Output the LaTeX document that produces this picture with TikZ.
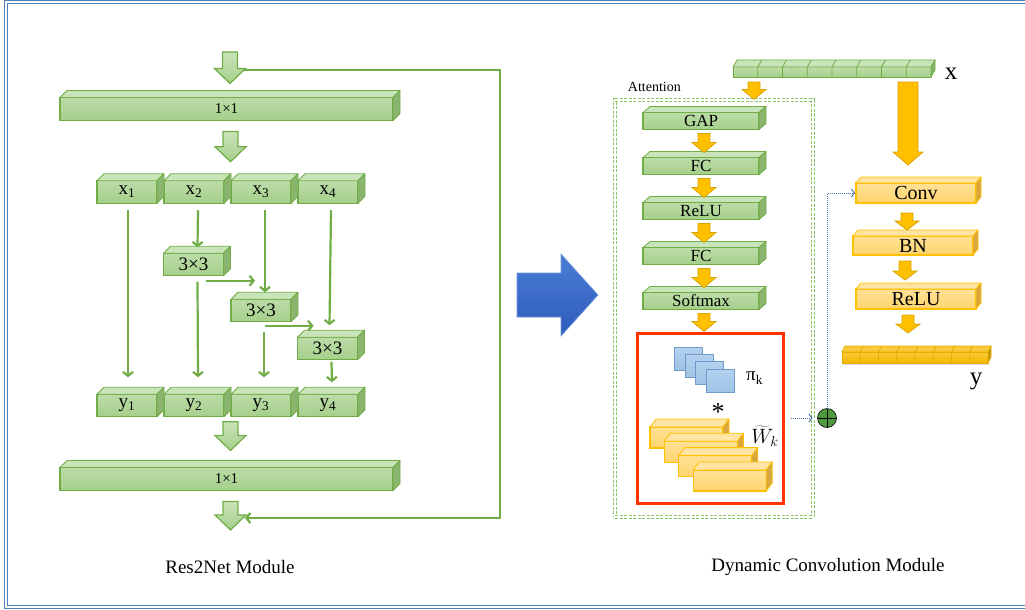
\documentclass[tikz,border=0pt]{standalone}
\usepackage{fontspec}
\setmainfont{Liberation Serif}
\usetikzlibrary{positioning, arrows.meta, calc, shadows}

\definecolor{gline}{HTML}{70AD47}
\definecolor{gfront}{HTML}{A5CF8A}
\definecolor{gfronthi}{HTML}{BCDCA8}
\definecolor{gtop}{HTML}{C9E4B9}
\definecolor{gside}{HTML}{8BB56F}
\definecolor{oline}{HTML}{FFC000}
\definecolor{ofront}{HTML}{FFD46E}
\definecolor{ofronthi}{HTML}{FFE196}
\definecolor{otop}{HTML}{FFE4A3}
\definecolor{oside}{HTML}{D8A742}
\definecolor{ablk}{HTML}{FFC000}
\definecolor{ablkline}{HTML}{D9A300}
\definecolor{yline}{HTML}{E6AC00}
\definecolor{yfront}{HTML}{F2B700}
\definecolor{ytop}{HTML}{F9CB3A}
\definecolor{yside}{HTML}{C89600}
\definecolor{pifill}{HTML}{9DC3E6}
\definecolor{pifillhi}{HTML}{B4D2EE}
\definecolor{piline}{HTML}{6E9BCB}
\definecolor{redc}{HTML}{FF3300}
\definecolor{attgreen}{HTML}{8CC46C}
\definecolor{dotblue}{HTML}{4E77A8}
\definecolor{framec}{HTML}{4F81BD}
\definecolor{bighi}{HTML}{4C7ED4}
\definecolor{biglo}{HTML}{2C5ABC}
\definecolor{sumfill}{HTML}{4F9A3C}

% top and side faces of a box node: node, dx, dy, colour prefix
\newcommand\prism[4]{%
  \draw[draw=#4line, fill=#4top, line width=0.8pt, line join=round] (#1.north west) -- ++(#2,-#3) -- ($(#1.north east)+(#2,-#3)$) -- (#1.north east) -- cycle;
  \draw[draw=#4line, fill=#4side, line width=0.8pt, line join=round] (#1.north east) -- ++(#2,-#3) -- ($(#1.south east)+(#2,-#3)$) -- (#1.south east) -- cycle;}

% fat downward arrow: style, tail, tip, shaft half width, head half width, head length
\newcommand\blockarrow[6]{%
  \path[#1] let \p1=#2, \p2=#3 in
    (\x1-#4pt,\y1) -- (\x1+#4pt,\y1) -- (\x1+#4pt,\y2+#6pt) -- (\x1+#5pt,\y2+#6pt)
    -- (\x1,\y2) -- (\x1-#5pt,\y2+#6pt) -- (\x1-#4pt,\y2+#6pt) -- cycle;}

\begin{document}
\begin{tikzpicture}[x=1pt, y=-1pt,
    gbox/.style={rectangle, draw=gline, line width=1.2pt, outer sep=0pt, inner sep=0pt, top color=gfronthi, bottom color=gfront},
    obox/.style={rectangle, draw=oline, line width=1.2pt, outer sep=0pt, inner sep=0pt, top color=ofronthi, bottom color=ofront},
    cell/.style={minimum width=60pt, minimum height=22.5pt, font=\fontsize{19}{22}\selectfont},
    wide/.style={minimum width=333pt, minimum height=23pt, font=\fontsize{15}{18}\selectfont},
    abox/.style={minimum width=116pt, minimum height=17pt, font=\fontsize{17}{20}\selectfont},
    rbox/.style={minimum width=120pt, minimum height=20pt, font=\fontsize{20}{24}\selectfont},
    ystrip/.style={rectangle, draw=yline, line width=0.8pt, outer sep=0pt, inner sep=0pt, top color=ytop, bottom color=yfront,
                   drop shadow={shadow xshift=1pt, shadow yshift=-2pt, opacity=0.25}},
    pisq/.style={rectangle, draw=piline, line width=1pt, top color=pifillhi, bottom color=pifill, minimum width=28pt, minimum height=23pt, inner sep=0pt},
    attbox/.style={draw=attgreen, line width=1.2pt, double, double distance=1.2pt, dash pattern=on 3pt off 1.5pt, inner sep=0pt},
    redbox/.style={draw=redc, line width=3pt, inner sep=0pt},
    sumc/.style={circle, draw=black, line width=0.6pt, fill=sumfill, minimum size=19pt, inner sep=0pt, outer sep=0pt},
    garrow/.style={draw=gline, line width=2.2pt, -{Straight Barb[length=4pt, width=10pt]}},
    gblk/.style={draw=gline, line width=1.2pt, top color=gtop, bottom color=gfront, line join=miter},
    oblk/.style={draw=ablkline, line width=0.8pt, fill=ablk, line join=miter},
    dotarrow/.style={draw=dotblue, densely dotted, line width=1pt, -{Straight Barb[length=3pt, width=8pt]}},
    frame/.style={draw=framec, line width=1.3pt, double=white, double distance=1.3pt},
    title/.style={font=\fontsize{19}{22}\selectfont}
]
\useasboundingbox (0,0) rectangle (1025,610);
\draw[frame] (1025,2) -| (6,607) -- (1025,607);

% ---- Res2Net module ----
\node (top1) [gbox, wide] at (226.5,109) {1×1};
\node (x1) [gbox, cell] at (127,192) {x\textsubscript{1}};
\node (x2) [gbox, cell, right=7pt of x1] {x\textsubscript{2}};
\node (x3) [gbox, cell, right=7pt of x2] {x\textsubscript{3}};
\node (x4) [gbox, cell, right=7pt of x3] {x\textsubscript{4}};
\node (s1) [gbox, cell] at (193.5,264.5) {3×3};
\node (s2) [gbox, cell] at (261,310.5) {3×3};
\node (s3) [gbox, cell] at (327.5,348.5) {3×3};
\node (y1) [gbox, cell] at (127,405.5) {y\textsubscript{1}};
\node (y2) [gbox, cell, right=7pt of y1] {y\textsubscript{2}};
\node (y3) [gbox, cell, right=7pt of y2] {y\textsubscript{3}};
\node (y4) [gbox, cell, right=7pt of y3] {y\textsubscript{4}};
\node (bot1) [gbox, wide] at (226.5,479) {1×1};
\foreach \n in {top1,x1,x2,x3,x4,s1,s2,s3,y1,y2,y3,y4,bot1} {\prism{\n}{7}{7}{g}}

% fat arrows through the block
\coordinate (inp) at (230,52);
\coordinate (outp) at (230,530);
\blockarrow{gblk}{(inp)}{([yshift=14pt]top1.north)}{7.5}{15.5}{15}
\blockarrow{gblk}{([shift={(4,11)}]top1.south)}{([yshift=19pt]x2.north)}{7.5}{15.5}{15}
\blockarrow{gblk}{($(top1.south |- y2.south)+(4,5)$)}{([yshift=17pt]bot1.north)}{7.5}{15.5}{15}
\blockarrow{gblk}{([shift={(4,11)}]bot1.south)}{(outp)}{7.5}{15.5}{15}

% residual path
\coordinate (skip) at ($(inp)+(14,18)$);
\coordinate (skipend) at ($(outp)+(15,-12)$);
\coordinate (loopx) at (500,70);
\draw[garrow] (skip) -- (loopx) |- (skipend);

% split connections
\draw[garrow] ([shift={(1,7)}]x1.south) -- ([shift={(1,-17)}]y1.north);
\draw[garrow] ([shift={(4,7)}]x2.south) -- ([shift={(4,-6)}]s1.north);
\draw[garrow] ([shift={(4,6)}]s1.south) -- ([shift={(4,-17)}]y2.north);
\draw[garrow] ([shift={(12,5)}]s1.south) -- ($(s1.south -| s2.north)+(-6,5)$);
\draw[garrow] ([shift={(4,7)}]x3.south) -- ([shift={(4,-7)}]s2.north);
\draw[garrow] ([shift={(3,10)}]s2.south) -- ([shift={(3,-17)}]y3.north);
\draw[garrow] ([shift={(4,4)}]s2.south) -- ($(s2.south -| s3.north)+(-14,4)$);
\draw[garrow] ([shift={(3,7)}]x4.south) -- ([shift={(2,-12)}]s3.north);
\draw[garrow] ([shift={(4,2)}]s3.south) -- ([shift={(4,-12)}]y4.north);

\node (ltitle) [title] at (230,567) {Res2Net Module};

% ---- big arrow between modules ----
\draw[draw=bighi!80!white, line width=0.6pt, top color=bighi, bottom color=biglo]
  (517,273) -- (561,273) -- (561,254) -- (598,295) -- (561,336) -- (561,317) -- (517,317) -- cycle;

% ---- dynamic convolution module ----
\node (xin) [gbox, line width=1pt, minimum width=198pt, minimum height=10pt] at (832,72) {};
\prism{xin}{4}{7}{g}
\foreach \i in {1,...,7}
  \draw[gline, line width=0.8pt] ($(xin.south west)!\i/8!(xin.south east)$) -- ($(xin.north west)!\i/8!(xin.north east)$) -- ++(4,-7);
\node (xlbl) [font=\fontsize{25}{28}\selectfont] at (951,74) {x};

\node (attn) [attbox, minimum width=198pt, minimum height=417pt] at (714,308.5) {};
\node (attnlbl) [anchor=west, font=\fontsize{14}{16}\selectfont] at ($(attn.north west)+(10,-12)$) {Attention};

\node (gap) [gbox, abox] at (701,121) {GAP};
\node (fc1) [gbox, abox, below=28pt of gap] {FC};
\node (relu1) [gbox, abox, below=28pt of fc1] {ReLU};
\node (fc2) [gbox, abox, below=28pt of relu1] {FC};
\node (soft) [gbox, abox, below=28pt of fc2] {Softmax};
\foreach \n in {gap,fc1,relu1,fc2,soft} {\prism{\n}{7}{6}{g}}

\node (kern) [redbox, minimum width=146pt, minimum height=170pt] at (710,418) {};
\foreach \i in {0,...,3}
  \node (pi\i) [pisq] at ({688.5+10.7*\i},{359+7.2*\i}) {};
\node (pilbl) [anchor=west, inner sep=1pt, font=\fontsize{19}{20}\selectfont] at (745,378) {π\textsubscript{k}};
\node (star) [inner sep=1pt, font=\fontsize{26}{26}\selectfont] at (718,412) {*};
\foreach \i in {0,...,3} {
  \node (w\i) [obox, minimum width=73pt, minimum height=21pt] at ({686.5+14.4*\i},{437.5+14.3*\i}) {};
  \prism{w\i}{6}{8}{o}
}
\node (wlbl) [inner sep=1pt, font=\fontsize{21}{22}\selectfont] at (765,436) {$\widetilde{W}_{k}$};

% attention arrows
\blockarrow{oblk}{([shift={(21,5)}]xin.south west)}{(attn.north)}{6}{12}{10}
\foreach \a/\b in {gap/fc1, fc1/relu1, relu1/fc2, fc2/soft}
  {\blockarrow{oblk}{([shift={(3,4)}]\a.south)}{([yshift=5pt]\b.north)}{6}{12}{10}}
\blockarrow{oblk}{([shift={(3,4)}]soft.south)}{(kern.north)}{6}{12}{10}

% weighted kernel sum
\node (sum) [sumc] at (827,418) {};
\draw[black, line width=0.6pt] (sum.north) -- (sum.south) (sum.west) -- (sum.east);
\draw[dotarrow] ([xshift=6pt]kern.east) -- ([xshift=-5pt]sum.west);

% convolution path
\node (conv) [obox, rbox] at (916,193) {Conv};
\node (bn) [obox, rbox, minimum height=19pt] at (913,245.5) {BN};
\node (relu2) [obox, rbox] at (916,299) {ReLU};
\foreach \n in {conv,bn,relu2} {\prism{\n}{5}{6}{o}}
\draw[dotarrow] (sum.north) |- ([xshift=-1pt]conv.west);

\node (yout) [ystrip, minimum width=146pt, minimum height=11pt] at (915,357.5) {};
\prism{yout}{3}{6}{y}
\foreach \i in {1,...,7}
  \draw[yline, line width=0.8pt] ($(yout.south west)!\i/8!(yout.south east)$) -- ($(yout.north west)!\i/8!(yout.north east)$) -- ++(3,-6);
\node (ylbl) [font=\fontsize{25}{28}\selectfont] at (976,381) {y};

\blockarrow{oblk}{([shift={(-23,5)}]xin.south east)}{([yshift=18pt]conv.north)}{10}{15}{13}
\blockarrow{oblk}{([shift={(-9,10)}]conv.south)}{([yshift=6pt]bn.north)}{6}{12}{9}
\blockarrow{oblk}{([shift={(-8,6)}]bn.south)}{([yshift=9pt]relu2.north)}{6}{12}{9}
\blockarrow{oblk}{([shift={(-8,6)}]relu2.south)}{([yshift=19pt]yout.north)}{6}{12}{9}

\node (rtitle) [title] at (828,567) {Dynamic Convolution Module};
\end{tikzpicture}
\end{document}
